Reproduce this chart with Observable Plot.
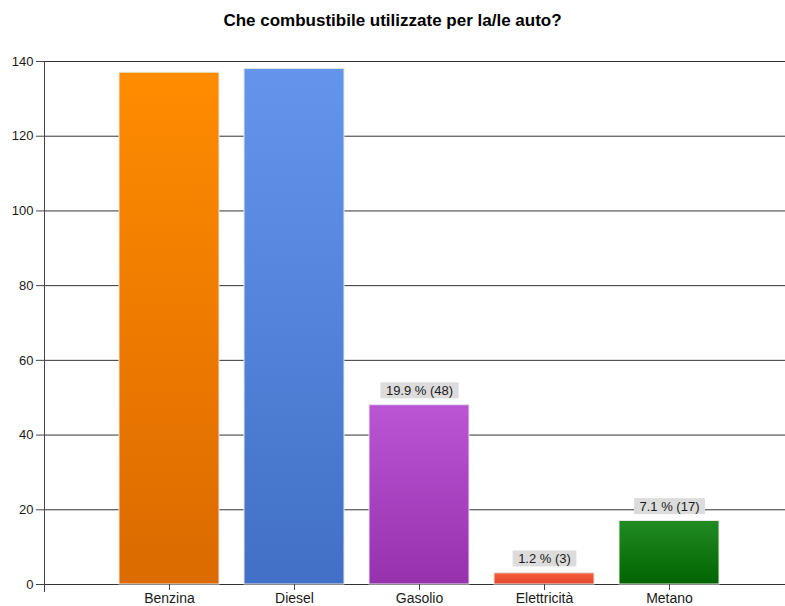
<!DOCTYPE html>
<html><head><meta charset="utf-8">
<script src="https://cdn.jsdelivr.net/npm/d3@7"></script>
<script src="https://cdn.jsdelivr.net/npm/@observablehq/plot@0.6"></script>
<style>
body{margin:0;background:#fff;}
#title{width:785px;height:40px;text-align:center;font:bold 17px "Liberation Sans",Arial,sans-serif;line-height:41px;color:#000;}
</style></head><body>
<div id="title">Che combustibile utilizzate per la/le auto?</div>
<div id="chart"></div>
<script>
const categories = ["Benzina", "Diesel", "Gasolio", "Elettricità", "Metano"];
const values = [137, 138, 48, 3, 17];
const labels = ["", "", "19.9 % (48)", "1.2 % (3)", "7.1 % (17)"];
const yTicks = [0, 20, 40, 60, 80, 100, 120, 140];
const topColors = ["#FF8C00", "#6495ED", "#BA55D3", "#F65E3C", "#228B22"];
const bottomColors = ["#DB6A00", "#4170C6", "#9632AE", "#E4462A", "#006400"];

const data = categories.map((c, i) => ({cat: c, value: values[i], label: labels[i], grad: `url(#g${i})`}));

const plot = Plot.plot({
  width: 785, height: 566,
  marginLeft: 44, marginRight: 0, marginTop: 21, marginBottom: 22,
  style: {fontFamily: "'Liberation Sans', Arial, sans-serif", fontSize: "13px", color: "#1a1a1a", background: "#fff"},
  x: {domain: categories, insetLeft: 62, insetRight: 54, paddingInner: 0.2, paddingOuter: 0.1, label: null},
  y: {domain: [0, 140], label: null},
  color: {type: "identity"},
  marks: [
    Plot.ruleY(yTicks, {stroke: "#333", strokeWidth: 1}),
    Plot.barY(data, {x: "cat", y: "value", fill: "grad", stroke: "#e6e6e6", strokeWidth: 1}),
    Plot.text(data.filter(d => d.label), {x: "cat", y: "value", text: "label", dy: -14, lineAnchor: "middle", fill: "#1a1a1a", fontSize: 13}),
    Plot.frame({anchor: "left", stroke: "#444", insetBottom: -7}),
    Plot.axisY({ticks: yTicks, tickSize: 8, tickPadding: 3, label: null, stroke: "#444", fontSize: 13}),
    Plot.axisX({tickSize: 6, tickPadding: 3, label: null, stroke: "#444", fontSize: 14})
  ]
});
document.getElementById("chart").appendChild(plot);

const svg = d3.select(plot);
const defs = svg.insert("defs", ":first-child");
topColors.forEach((c, i) => {
  const g = defs.append("linearGradient").attr("id", `g${i}`).attr("x1", 0).attr("y1", 0).attr("x2", 0).attr("y2", 1);
  g.append("stop").attr("offset", "0%").attr("stop-color", c);
  g.append("stop").attr("offset", "100%").attr("stop-color", bottomColors[i]);
});
svg.selectAll("g[aria-label=text] text").each(function() {
  const b = this.getBBox();
  d3.select(this.parentNode).insert("rect", () => this)
    .attr("transform", this.getAttribute("transform"))
    .attr("x", b.x - 5.5).attr("y", b.y - 1).attr("width", b.width + 11).attr("height", b.height + 1)
    .attr("fill", "#dcdcdc");
});
</script>
</body></html>
